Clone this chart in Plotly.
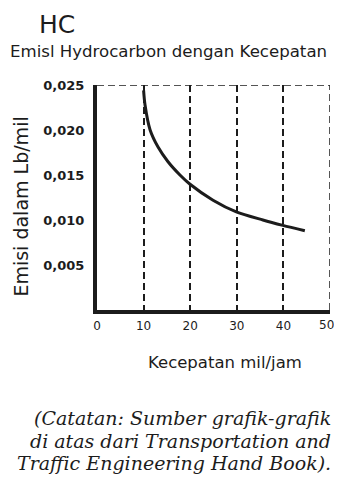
import plotly.graph_objects as go

speed = [10, 10.3, 11.4, 13.1, 15.2, 17.8, 19.9, 24.9, 29.9, 35.6, 39.9, 44.6]
emission = [0.0244, 0.0228, 0.0200, 0.0181, 0.0165, 0.0150, 0.0140, 0.0122, 0.0109, 0.0100, 0.0094, 0.0088]

x_ticks = [0, 10, 20, 30, 40, 50]
x_ticktext = ["0", "10", "20", "30", "40", ""]
last_x_tick = 50
last_x_label = "50"
y_ticks = [0.005, 0.010, 0.015, 0.020, 0.025]
y_ticktext = ["0,005", "0,010", "0,015", "0,020", "0,025"]

note_lines = ["(Catatan: Sumber grafik-grafik",
              "di atas dari Transportation and",
              "Traffic Engineering Hand Book)."]
note_y = [-0.48, -0.582, -0.68]

ink = "#1c1c1c"
dash = "7px,4px"
fig = go.Figure()
fig.add_trace(go.Scatter(x=speed, y=emission, mode="lines",
                         line=dict(color=ink, width=3, shape="spline", smoothing=0.8),
                         showlegend=False, hoverinfo="skip"))

annotations = [
    dict(text=last_x_label, xref="x", yref="paper", x=last_x_tick, y=0, yshift=-15,
         xanchor="center", yanchor="middle", xshift=-4, showarrow=False,
         font=dict(size=12, family="DejaVu Sans", color=ink)),
    dict(text="HC", xref="paper", yref="paper", x=-0.172, y=1.342, xanchor="center", yanchor="top",
         showarrow=False, font=dict(size=25, family="DejaVu Sans", color=ink)),
    dict(text="Emisl Hydrocarbon dengan Kecepatan", xref="paper", yref="paper",
         x=-0.38, y=1.15, xanchor="left", yanchor="middle", showarrow=False,
         font=dict(size=16.6, family="DejaVu Sans", color=ink)),
    dict(text="Emisi dalam Lb/mil", xref="paper", yref="paper", x=-0.33, y=0.46,
         xanchor="center", yanchor="middle", textangle=-90, showarrow=False,
         font=dict(size=19, family="DejaVu Sans", color=ink)),
    dict(text="Kecepatan mil/jam", xref="paper", yref="paper", x=0.549, y=-0.232,
         xanchor="center", yanchor="middle", showarrow=False,
         font=dict(size=16.5, family="DejaVu Sans", color=ink)),
]
for line, yy in zip(note_lines, note_y):
    annotations.append(dict(text="<i>" + line + "</i>", xref="paper", yref="paper",
                            x=1.012, y=yy, xanchor="right", yanchor="middle",
                            showarrow=False,
                            font=dict(size=19, family="DejaVu Serif", color=ink)))

fig.update_layout(
    width=326, height=470,
    margin=dict(l=89, r=4, t=77, b=168),
    paper_bgcolor="white", plot_bgcolor="white",
    font=dict(family="DejaVu Sans", color=ink),
    xaxis=dict(range=[0, 50], tickvals=x_ticks, ticktext=x_ticktext,
               showgrid=True, gridcolor=ink, griddash=dash, gridwidth=1.5,
               showline=True, linecolor=ink, linewidth=4, zeroline=False,
               ticks="", ticklabelstandoff=2,
               tickfont=dict(size=12, family="DejaVu Sans", color=ink)),
    yaxis=dict(range=[0, 0.025], tickvals=y_ticks, ticktext=y_ticktext,
               showgrid=False, showline=True, linecolor=ink, linewidth=4, zeroline=False,
               ticks="", ticklabelstandoff=6,
               tickfont=dict(size=13, family="DejaVu Sans", color=ink, weight="bold")),
    shapes=[
        dict(type="line", xref="x", yref="y", x0=0, x1=50, y0=0.025, y1=0.025,
             line=dict(color=ink, width=1.5, dash=dash)),
        dict(type="line", xref="x", yref="y", x0=50, x1=50, y0=0, y1=0.025,
             line=dict(color=ink, width=1.5, dash=dash)),
    ],
    annotations=annotations,
)

fig.write_html("out.html")
